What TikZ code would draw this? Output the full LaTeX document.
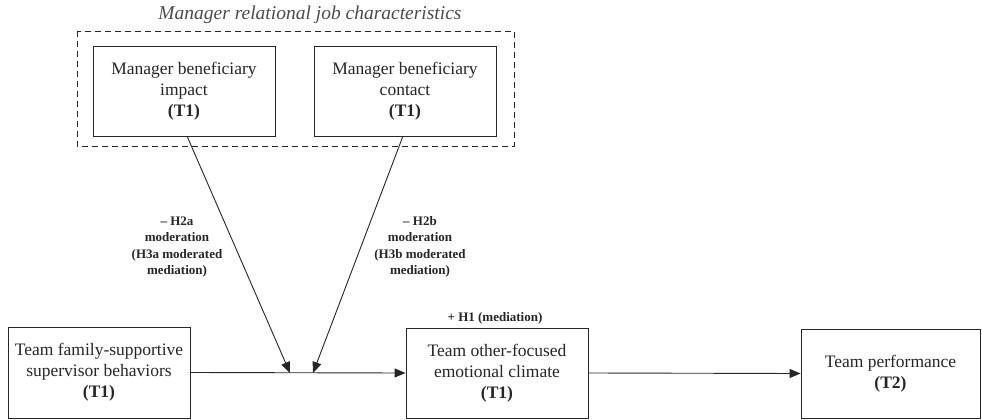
\documentclass[tikz,border=0pt]{standalone}
\usepackage{fontspec}
\setmainfont{Liberation Serif}
\usetikzlibrary{arrows.meta}
\begin{document}
\begin{tikzpicture}[x=1pt,y=-1pt,
  box/.style={draw=black!85, line width=0.9pt, minimum width=182pt, inner sep=0pt, align=center, text=black!85,
    font=\fontsize{17.5}{21}\selectfont},
  lbl/.style={align=center, text=black!85, font=\fontsize{13}{16.3}\selectfont\bfseries},
  arr/.style={draw=black!85, line width=0.9pt, -{Triangle[length=11pt,width=9pt]}}]
\useasboundingbox (0,0) rectangle (982,420);
% title and dashed frame
\node[font=\fontsize{19.5}{22}\selectfont\itshape, text=black!70] (title) at (310,15) {Manager relational job characteristics};
\draw[black!85, line width=0.9pt, dash pattern=on 6pt off 4pt] (77,31) rectangle (514,146);
% boxes
\node[box, minimum height=90pt] (A) at (184,91) {Manager beneficiary\\impact\\\textbf{(T1)}};
\node[box, minimum height=90pt] (B) at (405,91) {Manager beneficiary\\contact\\\textbf{(T1)}};
\node[box, minimum height=91pt] (L) at (99,372.5) {Team family-supportive\\supervisor behaviors\\\textbf{(T1)}};
\node[box, minimum height=90pt] (M) at (497,373) {Team other-focused\\emotional climate\\\textbf{(T1)}};
\node[box, minimum width=179pt, minimum height=89pt] (R) at (890.5,373.5) {Team performance\\\textbf{(T2)}};
% moderation coordinates
\coordinate (a1) at (187,136);
\coordinate (b1) at (403,136);
\coordinate (t1) at (290,373);
\coordinate (t2) at (313,373);
% connectors
\draw[arr] (L.east) -- (M.west);
\draw[arr] (M.east) -- (R.west);
\draw[arr] (a1) -- (t1);
\draw[arr] (b1) -- (t2);
% labels
\node[lbl] (la) at (177,247) {– H2a\\moderation\\(H3a moderated\\mediation)};
\node[lbl] (lb) at (420,247) {– H2b\\moderation\\(H3b moderated\\mediation)};
\node[lbl] (lh) at (495,318) {+ H1 (mediation)};
\end{tikzpicture}
\end{document}
